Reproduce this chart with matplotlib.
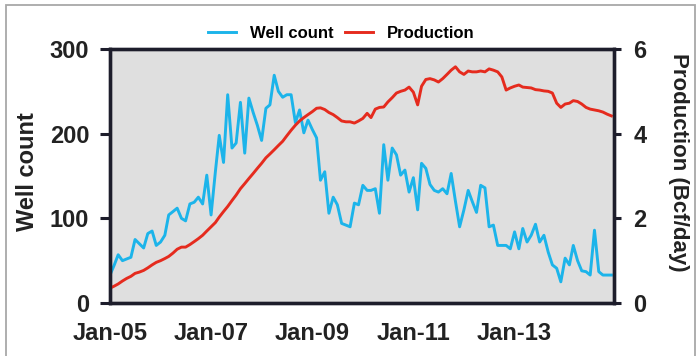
import matplotlib
matplotlib.use("Agg")
import matplotlib.pyplot as plt
import pandas as pd
from matplotlib.patches import Rectangle

plt.rcParams['font.family'] = ['Liberation Sans', 'DejaVu Sans']
plt.rcParams['font.weight'] = 'bold'

# Monthly series, Jan-2005 through Dec-2014
months = pd.date_range('2005-01-01', periods=120, freq='MS')

well_count = [
    33, 45, 57, 50, 52, 54, 75, 70, 65, 82, 85, 68,
    72, 80, 104, 108, 112, 100, 97, 117, 119, 125, 117, 151,
    104, 155, 198, 166, 246, 183, 189, 237, 177, 242, 225, 210,
    192, 230, 234, 269, 250, 243, 246, 246, 213, 228, 201, 216,
    205, 195, 145, 155, 106, 125, 116, 94, 92, 90, 118, 116,
    139, 133, 133, 135, 106, 187, 145, 183, 175, 151, 157, 131,
    148, 110, 165, 159, 140, 133, 131, 135, 129, 153, 120, 90,
    110, 133, 120, 107, 139, 136, 90, 92, 68, 68, 68, 64,
    84, 64, 88, 72, 80, 93, 72, 80, 60, 45, 41, 25,
    53, 45, 68, 50, 38, 37, 33, 86, 37, 33, 33, 33,
]

production = [
    0.35, 0.40, 0.45, 0.52, 0.58, 0.63, 0.70, 0.73, 0.77, 0.83, 0.90, 0.96,
    1.00, 1.05, 1.10, 1.18, 1.27, 1.32, 1.32, 1.38, 1.45, 1.52, 1.60, 1.70,
    1.80, 1.90, 2.03, 2.16, 2.28, 2.42, 2.55, 2.70, 2.82, 2.94, 3.06, 3.18,
    3.30, 3.43, 3.52, 3.62, 3.72, 3.82, 3.95, 4.08, 4.20, 4.30, 4.38, 4.45,
    4.52, 4.60, 4.61, 4.57, 4.50, 4.45, 4.38, 4.30, 4.28, 4.28, 4.25, 4.30,
    4.36, 4.48, 4.38, 4.58, 4.62, 4.63, 4.75, 4.85, 4.96, 5.00, 5.03, 5.10,
    4.98, 4.68, 5.12, 5.28, 5.30, 5.27, 5.22, 5.30, 5.40, 5.50, 5.58, 5.46,
    5.40, 5.48, 5.46, 5.46, 5.48, 5.46, 5.53, 5.50, 5.46, 5.34, 5.03, 5.08,
    5.12, 5.15, 5.10, 5.09, 5.08, 5.04, 5.03, 5.01, 5.00, 4.96, 4.72, 4.62,
    4.70, 4.72, 4.78, 4.76, 4.70, 4.62, 4.58, 4.56, 4.54, 4.51, 4.46, 4.42,
]

tick_dates = pd.to_datetime(['2005-01-01', '2007-01-01', '2009-01-01',
                             '2011-01-01', '2013-01-01'])
tick_labels = ['Jan-05', 'Jan-07', 'Jan-09', 'Jan-11', 'Jan-13']
well_ticks = [0, 100, 200, 300]
prod_ticks = [0, 2, 4, 6]

BLUE = '#1cb4ea'
RED = '#e52b1e'
SPINE = '#1d1d2b'

W, H = 699, 356
fig = plt.figure(figsize=(W / 100, H / 100), dpi=100)
fig.patch.set_facecolor('white')

# thin grey frame around the whole graphic
fig.add_artist(Rectangle((6 / W, -0.02), 689 / W, 1 - 5 / H + 0.02,
                         transform=fig.transFigure, fill=False,
                         edgecolor='#a8a8a8', linewidth=1.3))

ax = fig.add_axes([110 / W, 53 / H, 504 / W, 254 / H])
ax.set_facecolor('#dfdfdf')
ax2 = ax.twinx()

l1, = ax.plot(months, well_count, color=BLUE, linewidth=2.1,
              solid_joinstyle='round', label='Well count')
l2, = ax2.plot(months, production, color=RED, linewidth=2.1,
               solid_joinstyle='round', label='Production')

ax.set_ylim(0, 300)
ax2.set_ylim(0, 6)
ax.set_xlim(pd.Timestamp('2005-01-01'), pd.Timestamp('2014-12-20'))

ax.set_yticks(well_ticks)
ax.set_yticklabels([str(v) for v in well_ticks])
ax2.set_yticks(prod_ticks)
ax2.set_yticklabels([str(v) for v in prod_ticks])
ax.set_xticks(tick_dates)
ax.set_xticklabels(tick_labels)

for a in (ax, ax2):
    for s in a.spines.values():
        s.set_color(SPINE)
        s.set_linewidth(2.4)

ax.tick_params(axis='y', which='major', length=7, width=2.2, color=SPINE,
               pad=8, labelsize=17, labelcolor='#222222')
ax2.tick_params(axis='y', which='major', length=5, width=2.2, color=SPINE,
                pad=9, labelsize=17, labelcolor='#222222')
ax.tick_params(axis='x', which='major', length=0, pad=14,
               labelsize=17, labelcolor='#222222')

for lbl in ax.get_xticklabels() + ax.get_yticklabels() + ax2.get_yticklabels():
    lbl.set_fontweight('bold')

fig.text(27 / W, 1 - 172 / H, 'Well count', rotation=90, ha='center',
         va='center', fontsize=17, fontweight='bold', color='#222222')
fig.text(679 / W, 1 - 162 / H, 'Production (Bcf/day)', rotation=270,
         ha='center', va='center', fontsize=16, fontweight='bold',
         color='#222222')

fig.legend(handles=[l1, l2], loc='center', ncol=2,
           bbox_to_anchor=(341 / W, 1 - 33 / H), frameon=False,
           prop={'size': 12, 'weight': 'bold'}, handlelength=1.7,
           handletextpad=0.8, columnspacing=0.7, borderpad=0)

fig.savefig('out.png', dpi=100)
